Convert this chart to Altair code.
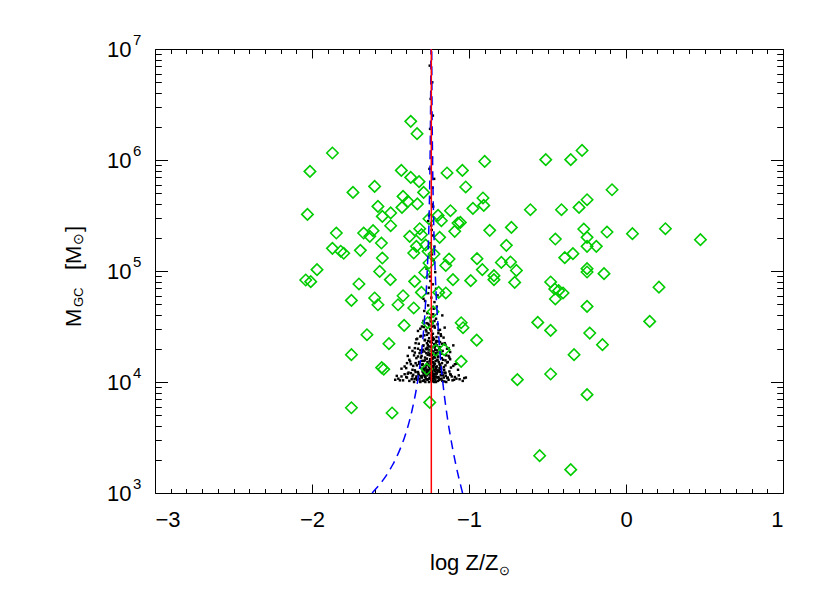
import altair as alt
import pandas as pd

# ---------------- data ----------------
# observed globular clusters (green diamonds): log Z/Zsun and log10 mass
gc_z = [-1.870, -2.013, -2.029, -1.845, -1.870, -1.817, -1.798, -1.968, -2.040, -2.008,
        -1.371, -1.331, -0.900, -1.431, -1.140, -1.042, -1.371, -1.318, -1.021, -1.739,
        -1.601, -1.289, -1.420, -1.389, -0.911, -0.906, -1.580, -1.427, -1.329, -0.975,
        -0.609, -1.499, -1.552, -1.118, -1.255, -1.197, -1.176, -1.499, -1.070, -1.055,
        -1.091, -1.314, -0.868, -0.730, -1.671, -1.611, -1.632, -1.378, -1.303, -1.187,
        -1.558, -1.335, -1.276, -0.762, -1.692, -1.352, -1.261, -1.223, -1.552, -0.949,
        -1.127, -1.255, -1.148, -0.794, -0.736, -1.569, -1.282, -0.915, -0.698, -0.841,
        -0.709, -1.701, -1.501, -1.346, -1.102, -0.989, -0.841, -1.303, -1.193, -1.148,
        -1.601, -1.420, -1.749, -1.580, -1.452, -1.352, -1.229, -1.263, -1.413, -1.650,
        -1.510, -1.749, -1.212, -1.158, -1.050, -1.038, -0.951, -0.562, -1.050, -1.556,
        -1.543, -1.269, -0.692, -1.749, -1.490, -1.250, -0.550, -0.511, -0.352, -0.280,
        -0.089, -0.248, -0.299, -0.411, -0.269, 0.251, -0.450, -0.121, 0.041, -0.248,
        -0.248, -0.189, 0.474, -0.338, -0.390, -0.248, -0.248, -0.140, -0.480, -0.454,
        -0.429, 0.210, -0.401, -0.450, -0.248, 0.151, -0.480, -0.231, -0.150, -0.331,
        -0.480, -0.248, -0.352]
gc_logm = [6.063, 5.897, 5.510, 5.342, 5.204, 5.178, 5.160, 5.012, 4.919, 4.904,
           6.348, 6.237, 5.987, 5.906, 5.883, 5.906, 5.843, 5.805, 5.757, 5.708,
           5.762, 5.708, 5.672, 5.627, 5.658, 5.591, 5.582, 5.573, 5.604, 5.564,
           5.552, 5.523, 5.492, 5.543, 5.471, 5.501, 5.453, 5.408, 5.432, 5.438,
           5.357, 5.381, 5.366, 5.393, 5.342, 5.363, 5.312, 5.312, 5.327, 5.303,
           5.252, 5.222, 5.234, 5.231, 5.186, 5.162, 5.177, 5.153, 5.117, 5.111,
           5.108, 5.072, 5.050, 5.077, 5.081, 4.996, 4.987, 5.012, 5.005, 4.958,
           4.897, 4.883, 4.922, 4.906, 4.922, 4.913, 4.922, 4.807, 4.807, 4.802,
           4.757, 4.777, 4.735, 4.696, 4.696, 4.667, 4.633, 4.534, 4.510, 4.426,
           4.345, 4.246, 4.286, 4.291, 4.534, 4.489, 4.377, 4.537, 4.186, 4.129,
           4.115, 4.117, 4.021, 3.768, 3.721, 3.816, 3.336, 6.003, 6.003, 6.086,
           5.732, 5.642, 5.573, 5.552, 5.378, 5.381, 5.288, 5.351, 5.336, 5.303,
           5.222, 5.222, 5.282, 5.156, 5.120, 5.021, 4.991, 4.976, 4.901, 4.838,
           4.823, 4.854, 4.802, 4.748, 4.681, 4.546, 4.465, 4.441, 4.336, 4.246,
           4.072, 3.886, 3.210]

# model clusters (black dots)
dots_z = [
    -1.45, -1.41, -1.38, -1.36, -1.34, -1.33, -1.32, -1.31, -1.30, -1.29,
    -1.285, -1.28, -1.275, -1.27, -1.265, -1.26, -1.255, -1.25, -1.245, -1.24,
    -1.235, -1.23, -1.225, -1.22, -1.215, -1.21, -1.205, -1.20, -1.19, -1.18,
    -1.17, -1.16, -1.15, -1.13, -1.11, -1.08, -1.04, -1.43, -1.37, -1.35,
    -1.315, -1.295, -1.268, -1.252, -1.237, -1.222, -1.207, -1.193, -1.175, -1.145,
    -1.12, -1.095, -1.395, -1.325, -1.305, -1.278, -1.258, -1.232, -1.212, -1.185,
    -1.165, -1.135, -1.065, -1.47, -1.02, -1.335, -1.197, -1.288, -1.228, -1.242,
    -1.41, -1.38, -1.36, -1.34, -1.325, -1.31, -1.30, -1.29, -1.28, -1.272,
    -1.265, -1.258, -1.25, -1.244, -1.238, -1.232, -1.226, -1.22, -1.213, -1.205,
    -1.197, -1.188, -1.178, -1.165, -1.15, -1.135, -1.115, -1.09, -1.395, -1.35,
    -1.332, -1.318, -1.295, -1.285, -1.268, -1.254, -1.246, -1.235, -1.223, -1.209,
    -1.193, -1.172, -1.158, -1.125, -1.37, -1.306, -1.276, -1.229, -1.201, -1.182,
    -1.26, -1.24, -1.288, -1.216, -1.145, -1.43, -1.07, -1.248, -1.226, -1.27,
    -1.36, -1.34, -1.325, -1.31, -1.30, -1.29, -1.28, -1.272, -1.265, -1.258,
    -1.252, -1.246, -1.24, -1.234, -1.228, -1.222, -1.215, -1.208, -1.20, -1.19,
    -1.18, -1.168, -1.155, -1.14, -1.12, -1.33, -1.315, -1.285, -1.268, -1.255,
    -1.243, -1.231, -1.219, -1.204, -1.185, -1.162, -1.295, -1.195, -1.275, -1.237,
    -1.38, -1.10, -1.26, -1.212, -1.248,
    -1.31, -1.29, -1.275, -1.265, -1.255, -1.248, -1.24, -1.232, -1.225, -1.218,
    -1.21, -1.20, -1.185, -1.17, -1.285, -1.26, -1.228, -1.244, -1.205, -1.30,
    -1.155, -1.325, -1.22, -1.27, -1.235,
    -1.28, -1.26, -1.25, -1.24, -1.23, -1.22, -1.21, -1.27, -1.225, -1.246,
    -1.20, -1.255, -1.235, -1.215, -1.29,
    -1.25, -1.23, -1.24, -1.255, -1.228, -1.245, -1.232, -1.222, -1.252, -1.236,
    -1.24, -1.248, -1.23, -1.244, -1.234, -1.25, -1.237, -1.26, -1.22, -1.235,
    -1.44, -1.40, -1.385, -1.365, -1.355, -1.345, -1.338, -1.322, -1.312, -1.302,
    -1.296, -1.286, -1.279, -1.271, -1.262, -1.256, -1.249, -1.243, -1.238, -1.233,
    -1.227, -1.221, -1.214, -1.206, -1.199, -1.191, -1.184, -1.176, -1.168, -1.158,
    -1.148, -1.138, -1.125, -1.105, -1.09, -1.06, -1.03, -1.46, -1.42, -1.39,
    -1.283, -1.261, -1.247, -1.231, -1.218, -1.204, -1.178, -1.152, -1.116, -1.347,
    -1.40, -1.375, -1.355, -1.335, -1.318, -1.302, -1.291, -1.281, -1.273, -1.263,
    -1.255, -1.247, -1.241, -1.236, -1.229, -1.223, -1.217, -1.21, -1.202, -1.194,
    -1.184, -1.173, -1.16, -1.14, -1.12, -1.10, -1.39, -1.345, -1.31, -1.284,
    -1.266, -1.251, -1.239, -1.226, -1.212, -1.196, -1.176, -1.15, -1.13, -1.08,
    -1.298, -1.258, -1.232, -1.205, -1.188,
    -1.345, -1.32, -1.305, -1.293, -1.282, -1.271, -1.262, -1.254, -1.247, -1.241,
    -1.236, -1.23, -1.224, -1.216, -1.207, -1.197, -1.186, -1.172, -1.15, -1.13,
    -1.335, -1.288, -1.259, -1.239, -1.221, -1.194, -1.268, -1.244, -1.211, -1.178]
dots_logm = [
    4.03, 4.07, 4.01, 4.05, 4.09, 4.02, 4.06, 4.00, 4.04, 4.08,
    4.01, 4.05, 4.03, 4.09, 4.02, 4.07, 4.00, 4.04, 4.06, 4.02,
    4.08, 4.01, 4.05, 4.03, 4.07, 4.00, 4.04, 4.09, 4.02, 4.06,
    4.01, 4.04, 4.08, 4.02, 4.05, 4.03, 4.01, 4.05, 4.08, 4.00,
    4.03, 4.01, 4.06, 4.03, 4.05, 4.00, 4.08, 4.04, 4.03, 4.00,
    4.07, 4.02, 4.04, 4.09, 4.05, 4.00, 4.09, 4.03, 4.05, 4.09,
    4.06, 4.04, 4.06, 4.02, 4.04, 4.05, 4.01, 4.06, 4.07, 4.10,
    4.14, 4.20, 4.11, 4.17, 4.23, 4.13, 4.19, 4.12, 4.22, 4.15,
    4.18, 4.11, 4.24, 4.16, 4.13, 4.21, 4.17, 4.11, 4.19, 4.14,
    4.23, 4.16, 4.12, 4.20, 4.15, 4.18, 4.13, 4.16, 4.17, 4.24,
    4.15, 4.18, 4.16, 4.10, 4.21, 4.14, 4.19, 4.24, 4.15, 4.12,
    4.18, 4.17, 4.11, 4.22, 4.16, 4.22, 4.13, 4.18, 4.20, 4.14,
    4.16, 4.20, 4.19, 4.22, 4.24, 4.12, 4.11, 4.12, 4.13, 4.11,
    4.28, 4.35, 4.30, 4.41, 4.27, 4.33, 4.38, 4.26, 4.31, 4.44,
    4.29, 4.36, 4.32, 4.27, 4.40, 4.34, 4.29, 4.37, 4.26, 4.31,
    4.43, 4.28, 4.35, 4.30, 4.27, 4.39, 4.26, 4.42, 4.35, 4.32,
    4.28, 4.38, 4.31, 4.33, 4.36, 4.40, 4.29, 4.44, 4.30, 4.42,
    4.31, 4.33, 4.37, 4.26, 4.25,
    4.48, 4.55, 4.47, 4.62, 4.51, 4.58, 4.46, 4.53, 4.66, 4.49,
    4.57, 4.52, 4.47, 4.60, 4.64, 4.69, 4.61, 4.55, 4.68, 4.50,
    4.49, 4.46, 4.55, 4.53, 4.50,
    4.73, 4.80, 4.95, 4.76, 4.88, 4.72, 4.84, 5.02, 5.10, 4.91,
    4.78, 4.85, 5.15, 4.99, 4.75,
    5.25, 5.32, 5.41, 5.50, 5.58, 5.66, 5.75, 5.83, 5.92, 6.02,
    6.15, 6.28, 6.40, 6.55, 6.70, 6.85, 5.37, 5.45, 5.22, 5.60,
    4.015, 4.045, 4.085, 4.025, 4.065, 4.105, 4.035, 4.075, 4.005, 4.055,
    4.095, 4.015, 4.045, 4.075, 4.025, 4.085, 4.035, 4.065, 4.005, 4.095,
    4.055, 4.035, 4.015, 4.075, 4.045, 4.105, 4.025, 4.065, 4.085, 4.005,
    4.055, 4.035, 4.095, 4.015, 4.045, 4.025, 4.035, 4.055, 4.015, 4.075,
    4.115, 4.105, 4.085, 4.115, 4.095, 4.105, 4.115, 4.085, 4.065, 4.025,
    4.125, 4.185, 4.145, 4.215, 4.165, 4.235, 4.125, 4.195, 4.155, 4.245,
    4.135, 4.205, 4.175, 4.255, 4.145, 4.225, 4.165, 4.135, 4.195, 4.265,
    4.155, 4.215, 4.135, 4.175, 4.205, 4.145, 4.235, 4.265, 4.285, 4.275,
    4.295, 4.185, 4.285, 4.275, 4.245, 4.225, 4.255, 4.195, 4.235, 4.165,
    4.155, 4.265, 4.215, 4.285, 4.125,
    4.305, 4.345, 4.415, 4.325, 4.375, 4.455, 4.335, 4.395, 4.475, 4.315,
    4.355, 4.435, 4.385, 4.325, 4.405, 4.365, 4.315, 4.345, 4.335, 4.305,
    4.385, 4.495, 4.525, 4.545, 4.505, 4.465, 4.425, 4.365, 4.355, 4.415]

# dispersion envelope (blue dashed) and mean metallicity (red)
env_logm = [3.0, 3.125, 3.25, 3.375, 3.5, 3.625, 3.75, 4.0, 4.25, 4.5, 4.75, 5.0, 5.5, 6.0, 6.5, 7.0]
env_left = [-1.617, -1.543, -1.488, -1.445, -1.411, -1.384, -1.362, -1.328, -1.304, -1.287,
            -1.275, -1.266, -1.254, -1.248, -1.2445, -1.2425]
env_right = [-1.041, -1.063, -1.083, -1.101, -1.117, -1.132, -1.145, -1.167, -1.184, -1.197,
             -1.208, -1.2155, -1.226, -1.232, -1.2355, -1.2375]
mean_z = [-1.24, -1.24]
mean_logm = [3.0, 7.0]

# axis ranges, ticks and labels
x_range = [-3, 1]
y_range = [1e3, 1e7]
x_major = [-3, -2, -1, 0, 1]
x_minor = [round(-3 + 0.1 * i, 1) for i in range(41) if i % 10 != 0]
y_major = [1e3, 1e4, 1e5, 1e6, 1e7]
y_minor = [k * 10 ** e for e in range(3, 7) for k in range(2, 10)]
y_exp_text = ["3", "4", "5", "6", "7"]
ytitle_parts = ["M", "GC", "[M", "\u2299", "]"]
xtitle_parts = ["log Z/Z", "\u2299"]

# ---------------- chart ----------------
W, H = 628, 444
FONT = "Liberation Sans"
XMAJ, XMIN, YMAJ, YMIN = 9, 4.5, 12.5, 6.3   # inward tick lengths (px)

xs = alt.Scale(domain=x_range, nice=False, zero=False)
ys = alt.Scale(type="log", domain=y_range, nice=False)

gc_df = pd.DataFrame({"z": gc_z, "m": [10 ** v for v in gc_logm]})
dots_df = pd.DataFrame({"z": dots_z, "m": [10 ** v for v in dots_logm]})
envl_df = pd.DataFrame({"z": env_left, "m": [10 ** v for v in env_logm]})
envr_df = pd.DataFrame({"z": env_right, "m": [10 ** v for v in env_logm]})
mean_df = pd.DataFrame({"z": mean_z, "m": [10 ** v for v in mean_logm]})
exp_df = pd.DataFrame({"m": y_major, "e": y_exp_text})


def tick_axis(orient, values, length):
    # negative tick size (given as an expression) draws the ticks inward
    return alt.Axis(orient=orient, values=values, ticks=True,
                    tickSize=alt.ExprRef(expr=f"-{length}"),
                    tickColor="black", tickWidth=1, labels=False, domain=False,
                    grid=False, title=None)


# the dots layer carries the labelled axes with the major inward ticks
dots = alt.Chart(dots_df).mark_square(size=6, color="black", opacity=1).encode(
    x=alt.X("z:Q", scale=xs, axis=alt.Axis(
        orient="bottom", values=x_major, ticks=True,
        tickSize=alt.ExprRef(expr=f"-{XMAJ}"), tickColor="black", tickWidth=1,
        domain=False, grid=False, labelFont=FONT, labelFontSize=22, labelColor="black",
        labelPadding=16 + XMAJ, title=None)),
    y=alt.Y("m:Q", scale=ys, axis=alt.Axis(
        orient="left", values=y_major, ticks=True,
        tickSize=alt.ExprRef(expr=f"-{YMAJ}"), tickColor="black", tickWidth=1,
        domain=False, grid=False, labelExpr="'10'", labelFont=FONT, labelFontSize=22,
        labelColor="black", labelPadding=24 + YMAJ, title=None)),
)

diamonds = alt.Chart(gc_df).mark_point(
    shape="diamond", filled=False, size=130, strokeWidth=1.6, color="#00cc00", opacity=1
).encode(
    x=alt.X("z:Q", scale=xs, axis=tick_axis("bottom", x_minor, XMIN)),
    y=alt.Y("m:Q", scale=ys, axis=tick_axis("left", y_minor, YMIN)),
)

blue_l = alt.Chart(envl_df).mark_line(
    color="#0000ff", strokeDash=[9, 6], strokeWidth=1.5, interpolate="monotone"
).encode(
    x=alt.X("z:Q", scale=xs, axis=tick_axis("top", x_major, XMAJ)),
    y=alt.Y("m:Q", scale=ys, axis=tick_axis("right", y_major, YMAJ)),
    order="m:Q",
)

blue_r = alt.Chart(envr_df).mark_line(
    color="#0000ff", strokeDash=[9, 6], strokeWidth=1.5, interpolate="monotone"
).encode(
    x=alt.X("z:Q", scale=xs, axis=tick_axis("top", x_minor, XMIN)),
    y=alt.Y("m:Q", scale=ys, axis=tick_axis("right", y_minor, YMIN)),
    order="m:Q",
)

red = alt.Chart(mean_df).mark_line(color="#ff0000", strokeWidth=1.5).encode(
    x=alt.X("z:Q", scale=xs, axis=None),
    y=alt.Y("m:Q", scale=ys, axis=None),
)

exps = alt.Chart(exp_df).mark_text(
    align="left", baseline="alphabetic", dy=-4, font=FONT, fontSize=15, color="black"
).encode(
    x=alt.value(-22),
    y=alt.Y("m:Q", scale=ys, axis=None),
    text="e:N",
)


def label(txt, x, y, size, angle=0):
    return alt.Chart(pd.DataFrame({"t": [txt]})).mark_text(
        align="left", baseline="alphabetic", font=FONT, fontSize=size, color="black",
        angle=angle
    ).encode(x=alt.value(x), y=alt.value(y), text="t:N")


ytitle = [
    label(ytitle_parts[0], -74, 278, 22, 270),
    label(ytitle_parts[1], -72, 258, 13, 270),
    label(ytitle_parts[2], -74, 221, 22, 270),
    label(ytitle_parts[3], -72, 196, 14, 270),
    label(ytitle_parts[4], -74, 183, 22, 270),
]
xtitle = [
    label(xtitle_parts[0], 275, 521, 22),
    label(xtitle_parts[1], 344, 526, 13),
]

chart = alt.layer(dots, diamonds, blue_l, blue_r, red, exps, *ytitle, *xtitle).resolve_axis(
    x="independent", y="independent"
).properties(
    width=W, height=H,
    autosize=alt.AutoSizeParams(type="none"),
    padding={"left": 147, "top": 41, "right": 38, "bottom": 90},
    background="white",
).configure_view(stroke="black", strokeWidth=1)

chart.save("out.html", embed_options={"renderer": "svg", "actions": False})
